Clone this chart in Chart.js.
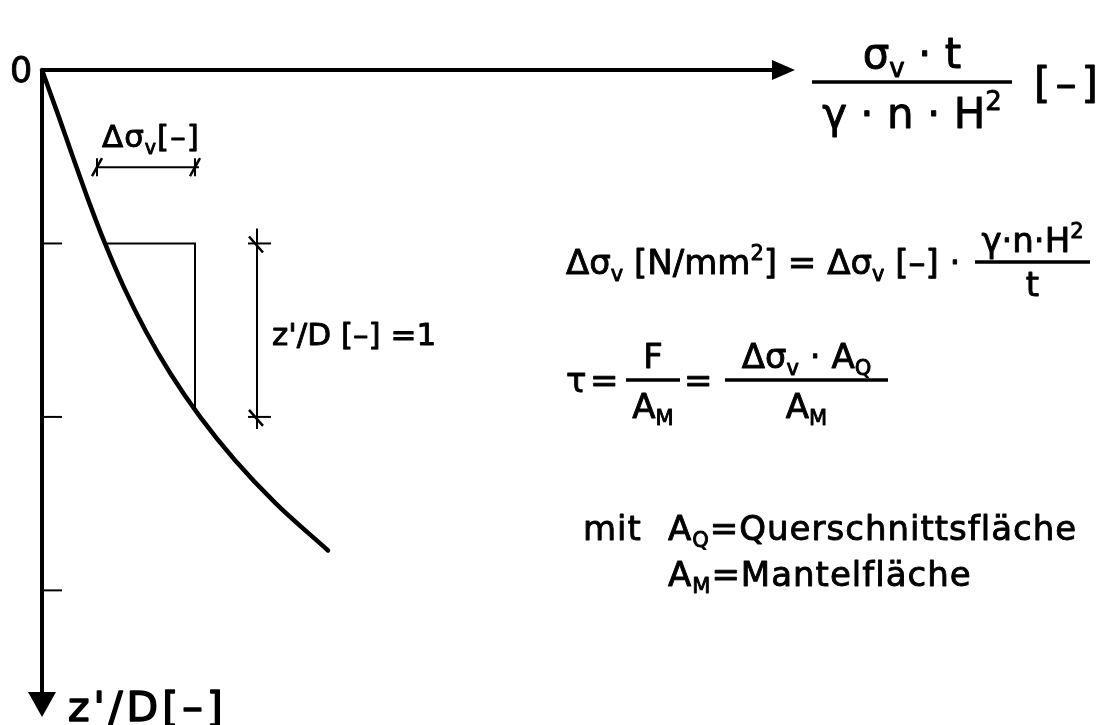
<!DOCTYPE html>
<html>
<head>
<meta charset="utf-8">
<script src="https://cdn.jsdelivr.net/npm/chart.js@4/dist/chart.umd.min.js"></script>
<style>
  html, body { margin: 0; background: #fff; }
</style>
</head>
<body>
<canvas id="diagram" width="1098" height="725"></canvas>
<script>
// Stress curve: dimensionless depth z'/D against dimensionless stress
const depthValues  = [0, 0.25, 0.5, 0.75, 1.0, 1.25, 1.5, 1.75, 2.0, 2.25, 2.5, 2.77];
const stressValues = [0, 0.156, 0.308, 0.463, 0.63, 0.817, 1.033, 1.284, 1.581, 1.93, 2.34, 2.86];

// Step drawn under the curve for one unit of depth
const stepStress = [0.63, 1.53, 1.53];
const stepDepth  = [1.0, 1.0, 1.96];

// Depth ticks on the vertical axis
const depthTicks = [1, 2, 3];

// Dimension lines: Δσv (horizontal) and z'/D = 1 (vertical)
const deltaDimStress = [0.55, 1.53];
const deltaDimDepth  = 0.56;
const zDimStress = 2.15;
const zDimDepth  = [1.0, 2.0];

const axisMax = { x: 7.53, y: 3.73 };

const FONT = '"DejaVu Sans", sans-serif';

// rich text: parts are [text, kind] with kind '' | 'sub' | 'sup'
function partFont(size, kind, weight) {
  const s = kind ? Math.round(size * 0.62) : size;
  return (weight || '') + ' ' + s + 'px ' + FONT;
}
function richWidth(ctx, parts, size, weight) {
  let w = 0;
  parts.forEach(([t, kind]) => {
    ctx.font = partFont(size, kind, weight);
    w += ctx.measureText(t).width;
  });
  return w;
}
function drawRich(ctx, parts, x, y, size, align, weight) {
  let cx = x;
  if (align === 'center') cx = x - richWidth(ctx, parts, size, weight) / 2;
  parts.forEach(([t, kind]) => {
    ctx.font = partFont(size, kind, weight);
    let dy = 0;
    if (kind === 'sub') dy = size * 0.22;
    if (kind === 'sup') dy = -size * 0.42;
    ctx.strokeText(t, cx, y + dy);
    ctx.fillText(t, cx, y + dy);
    cx += ctx.measureText(t).width;
  });
  return cx;
}
function line(ctx, x1, y1, x2, y2, w) {
  ctx.lineWidth = w;
  ctx.beginPath();
  ctx.moveTo(x1, y1);
  ctx.lineTo(x2, y2);
  ctx.stroke();
}
function fraction(ctx, num, den, x, yBar, width, size, numGap, denGap) {
  line(ctx, x, yBar, x + width, yBar, 3.5);
  ctx.lineWidth = 0.9;
  drawRich(ctx, num, x + width / 2, yBar - numGap, size, 'center');
  drawRich(ctx, den, x + width / 2, yBar + denGap, size, 'center');
}

const diagramPlugin = {
  id: 'diagram',
  beforeDatasetsDraw(chart) {
    const { ctx, scales: { x, y } } = chart;
    const x0 = x.getPixelForValue(0), y0 = y.getPixelForValue(0);
    const xEnd = x.getPixelForValue(axisMax.x), yEnd = y.getPixelForValue(axisMax.y);
    ctx.save();
    ctx.strokeStyle = '#000';
    ctx.fillStyle = '#000';

    // axes with arrow heads
    line(ctx, x0 - 1, y0, xEnd - 20, y0, 4);
    line(ctx, x0, y0, x0, yEnd - 22, 4);
    ctx.beginPath();
    ctx.moveTo(xEnd, y0);
    ctx.lineTo(xEnd - 23, y0 - 10);
    ctx.lineTo(xEnd - 23, y0 + 10);
    ctx.closePath();
    ctx.fill();
    ctx.beginPath();
    ctx.moveTo(x0, yEnd);
    ctx.lineTo(x0 - 14, yEnd - 25);
    ctx.lineTo(x0 + 14, yEnd - 25);
    ctx.closePath();
    ctx.fill();

    // depth ticks
    depthTicks.forEach(v => {
      const py = y.getPixelForValue(v);
      line(ctx, x0, py, x0 + 20, py, 2);
    });

    // Δσv dimension line
    const dy = y.getPixelForValue(deltaDimDepth);
    const dx1 = x.getPixelForValue(deltaDimStress[0]);
    const dx2 = x.getPixelForValue(deltaDimStress[1]);
    line(ctx, dx1, dy, dx2 + 4, dy, 2);
    [dx1, dx2].forEach(px => {
      line(ctx, px, dy - 9, px, dy + 9, 2);
      line(ctx, px - 5, dy + 9, px + 5, dy - 9, 2.5);
    });

    // z'/D = 1 dimension line
    const zx = x.getPixelForValue(zDimStress);
    const zy1 = y.getPixelForValue(zDimDepth[0]);
    const zy2 = y.getPixelForValue(zDimDepth[1]);
    line(ctx, zx, zy1 - 15, zx, zy2 + 12, 2);
    [zy1, zy2].forEach(py => {
      line(ctx, zx - 9, py, zx + 14, py, 2);
      line(ctx, zx - 8, py - 7, zx + 6, py + 9, 2.5);
    });
    ctx.restore();
  },
  afterDatasetsDraw(chart) {
    const { ctx } = chart;
    ctx.save();
    ctx.fillStyle = '#000';
    ctx.strokeStyle = '#000';
    ctx.lineJoin = 'round';
    ctx.lineWidth = 0.9;
    ctx.textBaseline = 'alphabetic';

    // origin label
    drawRich(ctx, [['0', '']], 10, 82, 35, 'left');

    // axis titles
    const bar = 82;
    fraction(ctx, [['σ', ''], ['v', 'sub'], [' · t', '']],
      [['γ · n · H', ''], ['2', 'sup']], 812, bar, 200, 42, 14, 46);
    ctx.letterSpacing = '5px';
    drawRich(ctx, [['[–]', '']], 1034, bar + 16, 42, 'left');

    ctx.letterSpacing = '4px';
    ctx.lineWidth = 1.6;
    drawRich(ctx, [["z'/D[–]", '']], 68, 721, 41, 'left');
    ctx.lineWidth = 0.9;

    // dimension labels
    ctx.letterSpacing = '1px';
    drawRich(ctx, [['Δσ', ''], ['v', 'sub'], ['[–]', '']], 102, 147, 31, 'left');
    ctx.letterSpacing = '0px';
    drawRich(ctx, [["z'/D [–] =1", '']], 272, 345, 31, 'left');

    // formulas
    const s = 34;
    drawRich(ctx, [['Δσ', ''], ['v', 'sub'], [' [N/mm', ''], ['2', 'sup'],
      ['] = Δσ', ''], ['v', 'sub'], [' [–] ·', '']], 566, 274, s, 'left');
    fraction(ctx, [['γ·n·H', ''], ['2', 'sup']], [['t', '']], 975, 262, 115, s, 10, 34);

    drawRich(ctx, [['τ', '']], 566, 392, s, 'left');
    drawRich(ctx, [['=', '']], 590, 392, s, 'left');
    fraction(ctx, [['F', '']], [['A', ''], ['M', 'sub']], 626, 380, 54, s, 12, 38);
    drawRich(ctx, [['=', '']], 684, 392, s, 'left');
    fraction(ctx, [['Δσ', ''], ['v', 'sub'], [' · A', ''], ['Q', 'sub']],
      [['A', ''], ['M', 'sub']], 725, 380, 163, s, 12, 38);

    ctx.letterSpacing = '1px';
    drawRich(ctx, [['mit', '']], 583, 540, s, 'left');
    drawRich(ctx, [['A', ''], ['Q', 'sub'], ['=Querschnittsfläche', '']], 668, 540, s, 'left');
    drawRich(ctx, [['A', ''], ['M', 'sub'], ['=Mantelfläche', '']], 668, 586, s, 'left');
    ctx.restore();
  }
};

new Chart(document.getElementById('diagram'), {
  type: 'scatter',
  data: {
    datasets: [
      {
        data: depthValues.map((z, i) => ({ x: stressValues[i], y: z })),
        showLine: true,
        borderColor: '#000',
        borderWidth: 4.5,
        borderCapStyle: 'round',
        pointRadius: 0,
        cubicInterpolationMode: 'monotone',
        clip: false
      },
      {
        data: stepDepth.map((z, i) => ({ x: stepStress[i], y: z })),
        showLine: true,
        borderColor: '#000',
        borderWidth: 2,
        pointRadius: 0,
        tension: 0,
        clip: false
      }
    ]
  },
  options: {
    responsive: false,
    animation: false,
    devicePixelRatio: 1,
    layout: { padding: { left: 42, top: 70, right: 303, bottom: 8 } },
    scales: {
      x: { type: 'linear', min: 0, max: axisMax.x, display: false },
      y: { type: 'linear', min: 0, max: axisMax.y, reverse: true, display: false }
    },
    plugins: { legend: { display: false }, tooltip: { enabled: false } }
  },
  plugins: [diagramPlugin]
});
</script>
</body>
</html>
